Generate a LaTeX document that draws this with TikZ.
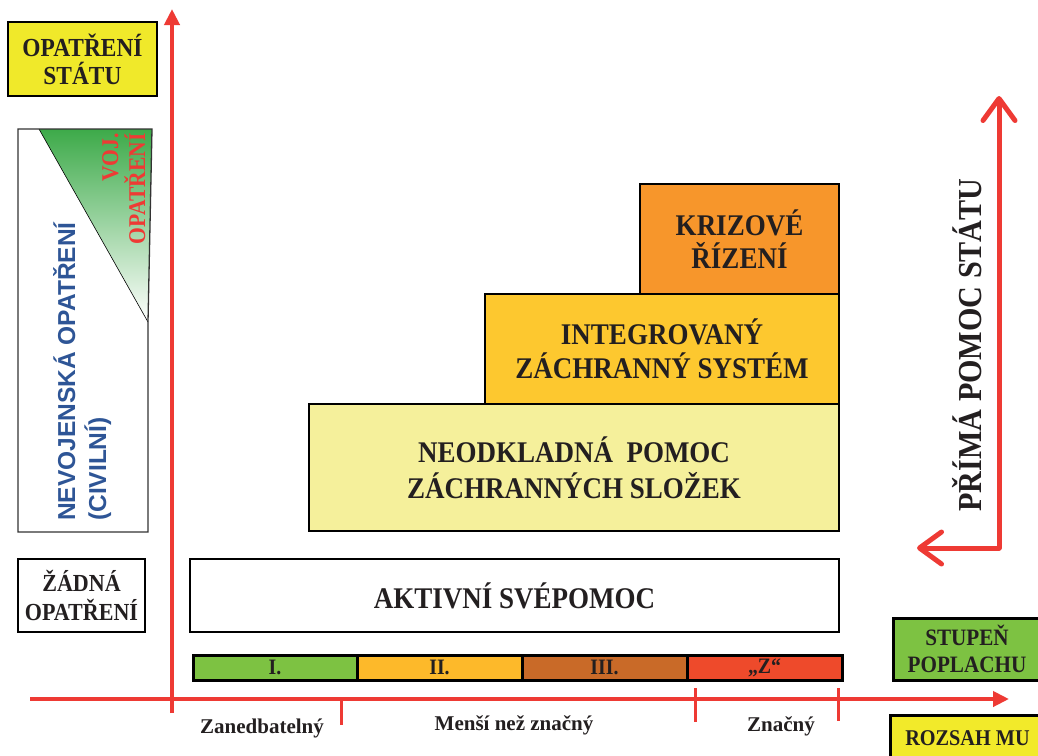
\documentclass[tikz,border=0pt]{standalone}
\usepackage{fontspec}
\setmainfont{Liberation Serif}
\newfontfamily\sansf{Liberation Sans}
\newfontfamily\condf[FakeStretch=0.9]{Liberation Serif}
\usetikzlibrary{arrows.meta}
\definecolor{txt}{HTML}{231F20}
\definecolor{axred}{HTML}{EE3A34}
\definecolor{ystat}{HTML}{F0E92A}
\definecolor{yrozsah}{HTML}{F2EA2A}
\definecolor{neod}{HTML}{F5F09B}
\definecolor{integ}{HTML}{FDC82F}
\definecolor{kriz}{HTML}{F7962B}
\definecolor{sI}{HTML}{7DC242}
\definecolor{sII}{HTML}{FDB92A}
\definecolor{sIII}{HTML}{C96A28}
\definecolor{sZ}{HTML}{EE4A2B}
\definecolor{civblue}{HTML}{2E5596}
\definecolor{vgreen}{HTML}{3DAA49}
\newcommand\fsz[2]{\fontsize{#1}{#2}\selectfont}
\begin{document}
\begin{tikzpicture}[x=1pt,y=-1pt,
  box/.style={draw=black, line width=1.3pt, inner sep=0pt, align=center, text=txt},
  stagebox/.style={draw=black, line width=3pt, inner sep=0pt, minimum height=25pt, text=txt, font=\condf\bfseries\fsz{22}{22}},
  axisline/.style={draw=axred, line width=4pt, -{Triangle[length=16pt,width=15pt]}},
  tickline/.style={draw=axred, line width=3pt},
  barbline/.style={draw=axred, line width=5pt, line cap=round, -{Straight Barb[length=22pt,width=32pt,round]}},
  axlabel/.style={anchor=base, text=txt, font=\bfseries\fsz{21}{21}}
]
\useasboundingbox[fill=white] (0,0) rectangle (1038,755);

% left column
\node[box, fill=ystat, minimum width=149pt, minimum height=74pt, font=\condf\bfseries\fsz{26}{28}] (statu) at (82.5,59) {OPATŘENÍ\\STÁTU};

\shade[top color=vgreen, bottom color=white] (39,129) -- (152,129) -- (148,322) -- cycle;
\draw[line width=0.6pt] (39,129) -- (148,322);
\draw[line width=1.3pt, draw=black!80] (18,129) -- (152,129) -- (148,322) -- (148,532) -- (18,532) -- cycle;
\node[rotate=90, anchor=north west, align=left, inner sep=0pt, text=civblue, font=\sansf\bfseries\fsz{24.5}{31}] (civ) at (53,521) {NEVOJENSKÁ OPATŘENÍ\\(CIVILNÍ)};
\node[rotate=90, anchor=north east, align=right, inner sep=0pt, text=axred, font=\condf\bfseries\fsz{24}{27}] (voj) at (102,133) {VOJ.\\OPATŘENÍ};

\node[box, minimum width=127pt, minimum height=73pt, font=\condf\bfseries\fsz{24.5}{29}] (zadna) at (81.5,595.5) {ŽÁDNÁ\\OPATŘENÍ};

% main blocks
\node[box, minimum width=649pt, minimum height=73pt, font=\condf\bfseries\fsz{30}{35}] (aktiv) at (514.5,595.5) {AKTIVNÍ SVÉPOMOC};
\node[box, fill=neod, minimum width=530pt, minimum height=127pt, font=\condf\bfseries\fsz{30}{36}] (neod) at (574,467.5) {NEODKLADNÁ\ \ POMOC\\ZÁCHRANNÝCH SLOŽEK};
\node[box, fill=integ, minimum width=354pt, minimum height=110pt, font=\condf\bfseries\fsz{30}{34}] (izs) at (662,349) {INTEGROVANÝ\\ZÁCHRANNÝ SYSTÉM};
\node[box, fill=kriz, minimum width=199pt, minimum height=110pt, font=\condf\bfseries\fsz{30}{33}] (kriz) at (739.5,239) {KRIZOVÉ\\ŘÍZENÍ};

% stages
\node[stagebox, fill=sI, minimum width=164pt] (st1) at (275,667.5) {I.};
\node[stagebox, fill=sII, minimum width=165pt] (st2) at (439.5,667.5) {II.};
\node[stagebox, fill=sIII, minimum width=165pt] (st3) at (604.5,667.5) {III.};
\node[stagebox, fill=sZ, minimum width=155pt] (st4) at (764.5,667.5) {„Z“};

% axes
\coordinate (yb) at (172,713);
\coordinate (yt) at (172,9);
\coordinate (xl) at (30,699);
\coordinate (xr) at (1009,699);
\draw[axisline] (yb) -- (yt);
\draw[axisline] (xl) -- (xr);
\coordinate (t1a) at (341,699); \coordinate (t1b) at (341,725);
\coordinate (t2a) at (695,688); \coordinate (t2b) at (695,722);
\coordinate (t3a) at (838,688); \coordinate (t3b) at (838,721);
\draw[tickline] (t1a) -- (t1b);
\draw[tickline] (t2a) -- (t2b);
\draw[tickline] (t3a) -- (t3b);
\node[axlabel] (l1) at (262,733) {Zanedbatelný};
\node[axlabel] (l2) at (514,730) {Menší než značný};
\node[axlabel] (l3) at (781,731) {Značný};

% right side
\coordinate (corner) at (999,548);
\coordinate (up) at (999,96);
\coordinate (left) at (917,548);
\draw[barbline] (corner) -- (up);
\draw[barbline] (corner) -- (left);
\node[rotate=90, anchor=base, inner sep=0pt, text=txt, font=\condf\bfseries\fsz{33.5}{34}] (prima) at (981,345) {PŘÍMÁ POMOC STÁTU};

\node[box, fill=sI, line width=3pt, minimum width=148pt, minimum height=62pt, font=\condf\bfseries\fsz{23.5}{27}] (stupen) at (967,649) {STUPEŇ\\POPLACHU};
\node[box, fill=yrozsah, line width=3pt, minimum width=155pt, minimum height=45pt, font=\condf\bfseries\fsz{22.5}{26}] (rozsah) at (967.5,738) {ROZSAH MU};
\end{tikzpicture}
\end{document}
